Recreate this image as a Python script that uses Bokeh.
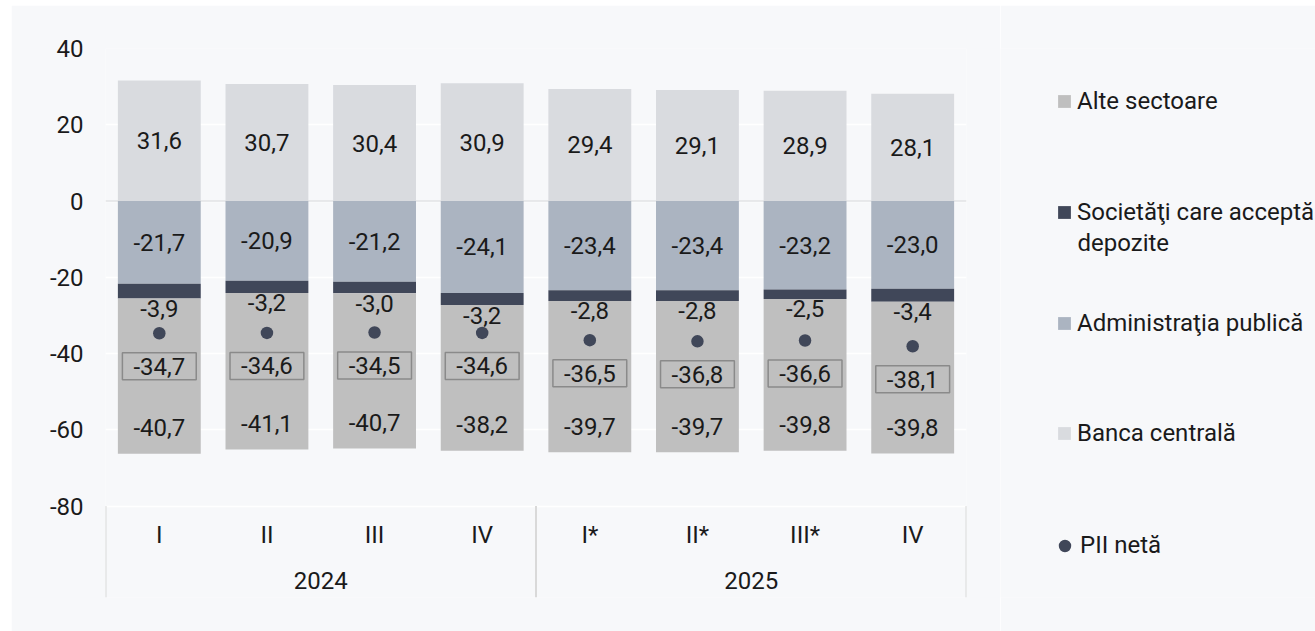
import numpy as np
from bokeh.plotting import figure
from bokeh.layouts import row, column
from bokeh.models import (FactorRange, Range1d, LinearAxis, FixedTicker, Legend,
                          LegendItem, Span, Grid, ColumnDataSource, Label, Spacer)
from bokeh.core.properties import value
from bokeh.embed import file_html
from bokeh.resources import INLINE

# ---------------- data ----------------
years = ["2024", "2025"]
quarters = [["I", "II", "III", "IV"], ["I*", "II*", "III*", "IV"]]
banca_centrala = [31.6, 30.7, 30.4, 30.9, 29.4, 29.1, 28.9, 28.1]
administratia_publica = [-21.7, -20.9, -21.2, -24.1, -23.4, -23.4, -23.2, -23.0]
societati_depozite = [-3.9, -3.2, -3.0, -3.2, -2.8, -2.8, -2.5, -3.4]
alte_sectoare = [-40.7, -41.1, -40.7, -38.2, -39.7, -39.7, -39.8, -39.8]
pii_neta = [-34.7, -34.6, -34.5, -34.6, -36.5, -36.8, -36.6, -38.1]
y_ticks = [-80, -60, -40, -20, 0, 20, 40]
legend_names = ["Alte sectoare", "Societăţi care acceptă", "Administraţia publică",
                "Banca centrală", "PII netă"]
legend_second_line = "depozite"

# ---------------- style ----------------
FONT = "Roboto"
FS = "24px"
TXT = "#1a1a1a"
BG = "#f7f8fa"
C_ALTE = "#bfbfbf"
C_SOC = "#404759"
C_ADM = "#abb4c1"
C_BC = "#d9dbdf"
C_PII = "#404759"
BAR_W = 0.77
AXIS_BOTTOM = -104
H = 626
B_TOP, B_BOTTOM = 43, 34
FRAME_H = H - B_TOP - B_BOTTOM


def fmt(v):
    return f"{v:.1f}".replace(".", ",")


def drop_grids(fig):
    fig.center = [r for r in fig.center if not isinstance(r, Grid)]


factors = [(y, q) for y, qs in zip(years, quarters) for q in qs]
quarter_labels = [q for qs in quarters for q in qs]

bc = np.array(banca_centrala)
adm = np.array(administratia_publica)
soc = np.array(societati_depozite)
alte = np.array(alte_sectoare)
pii = np.array(pii_neta)

src = ColumnDataSource(dict(
    x=factors,
    bc=bc, bc_mid=bc / 2, bc_lab=[fmt(v) for v in bc],
    adm=adm, adm_mid=adm / 2, adm_lab=[fmt(v) for v in adm],
    soc_top=adm, soc_bot=adm + soc, soc_lab=[fmt(v) for v in soc],
    alte_top=adm + soc, alte_bot=adm + soc + alte, alte_lab=[fmt(v) for v in alte],
    pii=pii, pii_lab=[fmt(v) for v in pii],
    qlab=quarter_labels, ybase=[y_ticks[0]] * len(factors),
))

# ---------------- main chart ----------------
p = figure(x_range=FactorRange(factors=factors, factor_padding=0, group_padding=0, range_padding=0),
           y_range=Range1d(AXIS_BOTTOM, y_ticks[-1]),
           width=989, height=H, output_backend="svg", toolbar_location=None,
           x_axis_location=None, y_axis_location=None,
           min_border_left=94, min_border_right=34, min_border_top=B_TOP, min_border_bottom=B_BOTTOM,
           background_fill_color=BG, border_fill_color=BG, outline_line_color=None)
drop_grids(p)

ticker = FixedTicker(ticks=y_ticks)
yaxis = LinearAxis(ticker=ticker, axis_line_color=None, major_tick_line_color=None,
                   minor_tick_line_color=None, major_tick_out=0, major_tick_in=0,
                   major_label_standoff=22, major_label_text_font=FONT,
                   major_label_text_font_size=FS, major_label_text_color=TXT,
                   major_label_overrides={t: str(t) for t in y_ticks})
p.add_layout(yaxis, "left")
p.add_layout(Grid(dimension=1, ticker=ticker, grid_line_color="white", grid_line_width=1.5))
p.add_layout(Span(location=0, dimension="width", line_color="#e1e2e4", line_width=1.5, level="underlay"))

p.vbar(x="x", top="bc", bottom=0, width=BAR_W, source=src, fill_color=C_BC, line_color=None)
p.vbar(x="x", top=0, bottom="adm", width=BAR_W, source=src, fill_color=C_ADM, line_color=None)
p.vbar(x="x", top="soc_top", bottom="soc_bot", width=BAR_W, source=src, fill_color=C_SOC, line_color=None)
p.vbar(x="x", top="alte_top", bottom="alte_bot", width=BAR_W, source=src, fill_color=C_ALTE, line_color=None)
p.scatter(x="x", y="pii", size=12.5, source=src, fill_color=C_PII, line_color=None)

tk = dict(text_align="center", text_baseline="middle", text_font=value(FONT),
          text_font_size=FS, text_color=TXT)
p.text(x="x", y="bc_mid", text="bc_lab", source=src, **tk)
p.text(x="x", y="adm_mid", text="adm_lab", source=src, **tk)
p.text(x="x", y="soc_bot", text="soc_lab", y_offset=10, source=src, **tk)
p.text(x="x", y="alte_bot", text="alte_lab", y_offset=-26, source=src, **tk)
p.text(x="x", y="pii", text="pii_lab", y_offset=33, border_line_color="#8a8a8a",
       border_line_width=1.5, padding=dict(left=11, right=11, top=5, bottom=5), source=src, **tk)

# two-level category axis drawn under the value range
p.text(x="x", y="ybase", text="qlab", y_offset=29, source=src, **tk)
p.text(x=years, y=[y_ticks[0]] * len(years), text=years, y_offset=74, **tk)
seps = [(years[0], quarters[0][0], -0.5)] + [(y, qs[-1], 0.5) for y, qs in zip(years, quarters)]
p.segment(x0=seps, x1=seps, y0=[y_ticks[0]] * len(seps), y1=[AXIS_BOTTOM] * len(seps),
          line_color="#d9d9d9", line_width=2)

# ---------------- legend panel ----------------
LW = 315
pl = figure(width=LW, height=H, x_range=Range1d(0, 1), y_range=Range1d(0, 1),
            output_backend="svg", toolbar_location=None,
            x_axis_location=None, y_axis_location=None,
            min_border_left=0, min_border_right=0, min_border_top=B_TOP, min_border_bottom=B_BOTTOM,
            background_fill_color=BG, border_fill_color=BG, outline_line_color=None)
drop_grids(pl)

nan_src = ColumnDataSource(dict(x=[np.nan], y=[np.nan]))
colors = [C_ALTE, C_SOC, C_ADM, C_BC]
leg_rs = [pl.vbar(x="x", top="y", bottom="y", width=1, source=nan_src, fill_color=c, line_color=None)
          for c in colors]
leg_rs.append(pl.scatter(x="x", y="y", size=10, source=nan_src, fill_color=C_PII, line_color=None))

centers = [53, 164, 275, 385, 497]   # item centres, px below the panel's frame top
for name, r, c in zip(legend_names, leg_rs, centers):
    dot = r is leg_rs[-1]
    gw = 31 if dot else 16
    h = max(gw, 28)
    leg = Legend(items=[LegendItem(label=name, renderers=[r])],
                 location=(49 if dot else 56, FRAME_H - c - h / 2),
                 glyph_width=gw, glyph_height=gw, label_standoff=0 if dot else 5,
                 label_text_font=FONT, label_text_font_size=FS, label_text_color=TXT,
                 background_fill_alpha=0, border_line_color=None, padding=0, margin=0,
                 spacing=0, label_height=28)
    pl.add_layout(leg, "center")
pl.add_layout(Label(x=77, y=FRAME_H - centers[1] - 30, x_units="screen", y_units="screen",
                    text=legend_second_line, text_baseline="middle", text_font=FONT,
                    text_font_size=FS, text_color=TXT))

layout = column(Spacer(height=5), row(Spacer(width=11), p, pl, spacing=0), spacing=0)
open("out.html", "w").write(file_html(layout, INLINE))
